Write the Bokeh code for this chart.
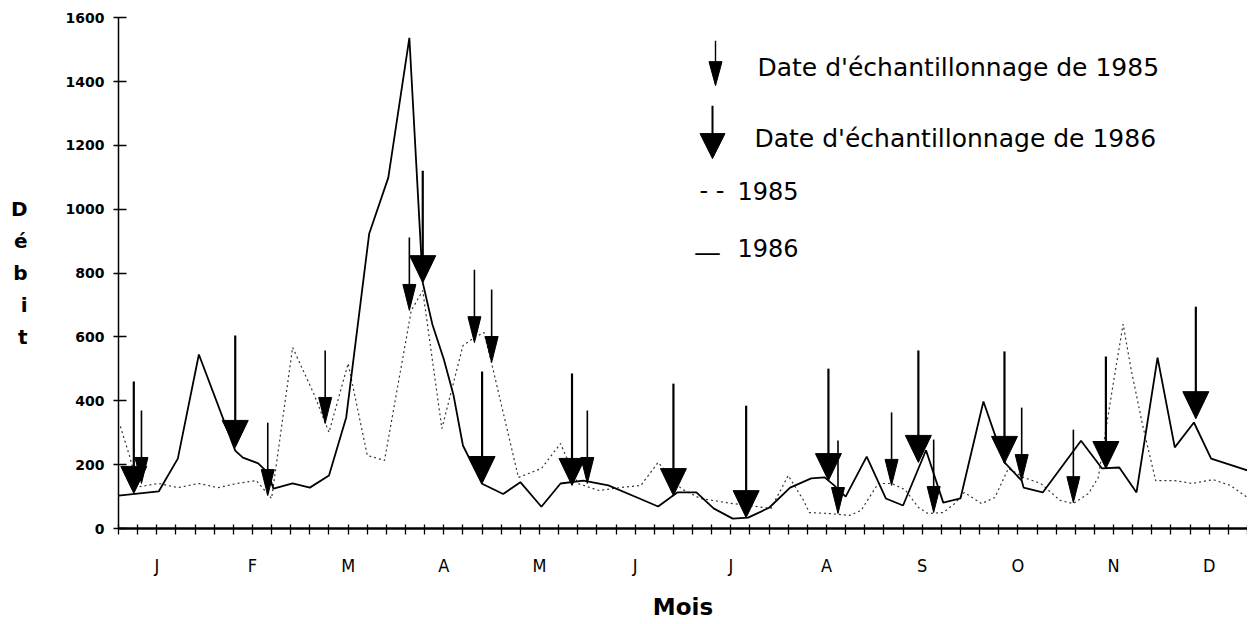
from bokeh.plotting import figure
from bokeh.models import Range1d, FixedTicker, Label
from bokeh.embed import file_html
from bokeh.resources import INLINE

# ---------------- data ----------------
months = ["J", "F", "M", "A", "M", "J", "J", "A", "S", "O", "N", "D"]
y_ticks = [0, 200, 400, 600, 800, 1000, 1200, 1400, 1600]

# x: position on the time axis in tick units (60 ticks over the year)
x_1986 = [0.0, 2.1, 3.1, 4.2, 6.1, 6.5, 7.3, 7.8, 8.1, 9.1, 10.0, 11.0, 11.9, 13.1, 14.1,
          15.2, 15.9, 16.4, 17.0, 17.5, 18.0, 19.0, 20.1, 21.0, 22.1, 23.1, 24.3, 25.6,
          27.1, 28.2, 29.2, 30.2, 31.1, 32.1, 32.9, 34.0, 35.1, 36.2, 36.9, 37.4, 38.0,
          39.1, 40.1, 41.0, 42.2, 43.1, 44.0, 45.2, 46.3, 47.2, 47.3, 48.3, 50.3, 51.4,
          52.3, 53.2, 54.3, 55.2, 56.2, 57.1, 59.0]
q_1986 = [103, 116, 219, 545, 244, 222, 204, 175, 125, 141, 128, 166, 348, 923, 1099,
          1537, 770, 640, 530, 420, 260, 140, 108, 145, 68, 141, 150, 135,
          97, 69, 113, 113, 63, 31, 34, 65, 128, 157, 160, 135, 100,
          225, 94, 72, 245, 81, 94, 398, 207, 150, 128, 113, 275, 188,
          191, 113, 535, 254, 332, 219, 182]

x_1985 = [0.1, 0.6, 1.0, 2.1, 3.1, 4.2, 5.2, 6.2, 7.2, 8.0, 9.1, 10.2, 11.0, 12.0, 13.0,
          13.9, 15.3, 15.9, 16.9, 18.0, 18.6, 19.1, 19.5, 20.9, 22.1, 23.1, 24.0, 25.1,
          26.2, 27.3, 28.2, 29.4, 30.4, 32.1, 34.1, 35.0, 35.8, 36.1, 37.1, 38.2, 38.8,
          39.7, 40.4, 41.1, 41.8, 42.3, 43.1, 43.7, 44.2, 45.1, 45.8, 46.5, 47.3, 48.2,
          49.2, 49.9, 50.7, 51.2, 52.0, 52.5, 52.9, 53.5, 54.2, 55.2, 56.1, 57.2, 58.1, 59.0]
q_1985 = [320, 222, 130, 141, 128, 141, 128, 141, 150, 94, 567, 423, 301, 517, 229,
          213, 683, 745, 313, 573, 598, 614, 517, 160, 188, 266, 141, 119,
          128, 135, 207, 125, 94, 78, 63, 166, 88, 50, 47, 41, 56,
          141, 141, 122, 66, 47, 50, 78, 113, 78, 97, 188, 160, 141,
          88, 78, 110, 160, 460, 640, 504, 329, 150, 150, 141, 153, 135, 97]

# sampling dates (x) and the discharge the arrow points at
samp85_x = [1.2, 7.8, 10.8, 15.2, 18.6, 19.5, 24.5, 37.6, 40.4, 42.6, 47.2, 49.9]
samp85_q = [141, 103, 329, 683, 582, 520, 141, 47, 135, 50, 150, 81]
samp86_x = [0.8, 6.1, 15.9, 19.0, 23.7, 29.0, 32.8, 37.1, 41.8, 46.3, 51.6, 56.3]
samp86_q = [110, 254, 770, 141, 135, 103, 34, 150, 207, 204, 188, 344]

# ---------------- layout ----------------
OX, OY = 0, 0          # page offset of the figure
W, H = 1247, 622
BL, BR, BT = 118, 0, 17
BB = H - 528
X0, X1 = 0.0, 59.0
Y0, Y1 = 0.0, 1600.0
FW = W - BL - BR
FH = H - BT - BB
XPX = FW / (X1 - X0)
YPX = FH / (Y1 - Y0)


def dx(px):
    return px / XPX


def dy(px):
    return px / YPX


def page_x(px):
    return X0 + (px - OX - BL) / XPX


def page_y(py):
    return Y0 + (OY + BT + FH - py) / YPX


p = figure(width=W, height=H, x_range=Range1d(X0, X1), y_range=Range1d(Y0, Y1 + 0.5),
           output_backend="svg", toolbar_location=None,
           min_border_left=BL, min_border_right=BR, min_border_top=BT, min_border_bottom=BB)
p.grid.visible = False
p.outline_line_color = None
p.background_fill_color = "white"
p.border_fill_color = "white"

# y axis
p.yaxis.ticker = FixedTicker(ticks=y_ticks)
p.yaxis.major_label_text_font = "DejaVu Sans"
p.yaxis.major_label_text_font_style = "bold"
p.yaxis.major_label_text_font_size = "14px"
p.yaxis.major_label_text_color = "black"
p.yaxis.major_tick_in = 8
p.yaxis.major_tick_out = 5
p.yaxis.major_tick_line_width = 1.5
p.yaxis.minor_tick_line_color = None
p.yaxis.axis_line_width = 1.5
p.yaxis.major_label_standoff = 9
yax = p.yaxis[0]
yax.axis_label = "D\n\u00e9\nb\ni\nt"
yax.axis_label_text_font = "DejaVu Sans"
yax.axis_label_text_font_style = "bold"
yax.axis_label_text_font_size = "20px"
yax.axis_label_text_color = "black"
yax.axis_label_text_line_height = 1.33
yax.axis_label_text_align = "center"
yax.axis_label_standoff = 35
if "axis_label_orientation" in yax.properties():
    yax.axis_label_orientation = "horizontal"

# x axis
xt = list(range(0, 60))
month_pos = [2 + 5 * k for k in range(len(months))]
overrides = {t: "" for t in xt}
for pos, m in zip(month_pos, months):
    overrides[pos] = m
p.xaxis.ticker = FixedTicker(ticks=xt)
p.xaxis.major_label_overrides = overrides
p.xaxis.major_label_text_font = "'Liberation Sans Narrow', 'DejaVu Sans Condensed', sans-serif"
p.xaxis.major_label_text_font_size = "18px"
p.xaxis.major_label_text_color = "black"
p.xaxis.major_tick_in = 4
p.xaxis.major_tick_out = 6
p.xaxis.major_tick_line_width = 1.3
p.xaxis.minor_tick_line_color = None
p.xaxis.axis_line_width = 2.5
p.xaxis.major_label_standoff = 20
p.xaxis.axis_label = "Mois"
p.xaxis.axis_label_text_font = "DejaVu Sans"
p.xaxis.axis_label_text_font_style = "bold"
p.xaxis.axis_label_text_font_size = "23px"
p.xaxis.axis_label_text_color = "black"
p.xaxis.axis_label_standoff = 15

# series
p.line(x_1985, q_1985, line_color="#333333", line_width=1.2, line_dash="2 3")
p.line(x_1986, q_1986, line_color="black", line_width=1.8)


def draw_arrows(xs, qs, w, h, length, stem_w):
    p.segment(x0=xs, y0=[q + dy(length) for q in qs], x1=xs, y1=[q + dy(h) * 0.5 for q in qs],
              line_color="black", line_width=stem_w)
    p.patches(xs=[[x - dx(w / 2), x + dx(w / 2), x] for x in xs],
              ys=[[q + dy(h), q + dy(h), q] for q in qs],
              fill_color="black", line_color="black", line_width=1)


draw_arrows(samp85_x, samp85_q, 13, 26, 73, 1.6)
draw_arrows(samp86_x, samp86_q, 26, 27, 112, 2.2)

# legend (drawn by hand like the original)
leg_font = "DejaVu Sans"
for (lx, ltip, w, h, length, sw) in [(715, 85, 13, 24, 45, 1.4), (712, 158, 25, 25, 53, 2.0)]:
    xx = page_x(lx)
    qq = page_y(ltip)
    p.segment(x0=[xx], y0=[qq + dy(length)], x1=[xx], y1=[qq + dy(h) * 0.5],
              line_color="black", line_width=sw)
    p.patches(xs=[[xx - dx(w / 2), xx + dx(w / 2), xx]], ys=[[qq + dy(h), qq + dy(h), qq]],
              fill_color="black", line_color="black")

legend_texts = [
    ("Date d'\u00e9chantillonnage de 1985", 757, 67),
    ("Date d'\u00e9chantillonnage de 1986", 754, 138),
    ("- -", 699, 190),
    ("1985", 737, 190),
    ("__", 695, 240),
    ("1986", 737, 247),
]
for t, lx, ly in legend_texts:
    p.add_layout(Label(x=page_x(lx), y=page_y(ly), text=t, text_font=leg_font,
                       text_font_size="25px" if t.startswith("Date") else "24px",
                       text_baseline="middle", text_align="left", text_color="black"))

open("out.html", "w").write(file_html(p, INLINE))
